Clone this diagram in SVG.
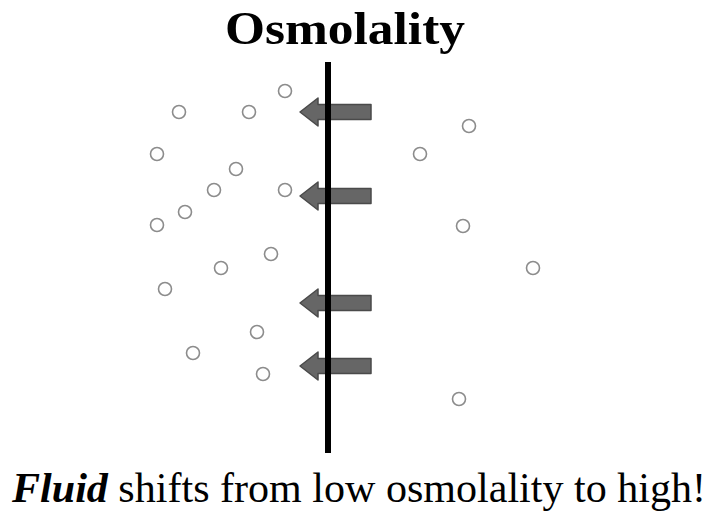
<svg xmlns="http://www.w3.org/2000/svg" width="715" height="519" viewBox="0 0 715 519">
<defs>
<style>
.p{fill:none;stroke:#8c8c8c;stroke-width:1.6}
.ar{fill:#666;stroke:#4a4a4a;stroke-width:1.5;stroke-linejoin:round}
.t{font-family:"Liberation Serif","Times New Roman",serif;fill:#000}
</style>
<path id="arr" class="ar" d="M0,0 L18,-14 L18,-7.5 L71,-7.5 L71,7.5 L18,7.5 L18,14 Z"/>
</defs>
<rect width="715" height="519" fill="#fff"/>
<g id="title"><text class="t" x="345" y="44" font-size="46" font-weight="bold" text-anchor="middle" textLength="240" lengthAdjust="spacingAndGlyphs">Osmolality</text></g>
<g id="particles-left">
<circle class="p" cx="179" cy="112" r="6.5"/>
<circle class="p" cx="249" cy="112" r="6.5"/>
<circle class="p" cx="285" cy="91" r="6.5"/>
<circle class="p" cx="157" cy="154" r="6.5"/>
<circle class="p" cx="236" cy="169" r="6.5"/>
<circle class="p" cx="214" cy="190" r="6.5"/>
<circle class="p" cx="285" cy="190" r="6.5"/>
<circle class="p" cx="185" cy="212" r="6.5"/>
<circle class="p" cx="157" cy="225" r="6.5"/>
<circle class="p" cx="271" cy="254" r="6.5"/>
<circle class="p" cx="221" cy="268" r="6.5"/>
<circle class="p" cx="165" cy="289" r="6.5"/>
<circle class="p" cx="257" cy="332" r="6.5"/>
<circle class="p" cx="193" cy="353" r="6.5"/>
<circle class="p" cx="263" cy="374" r="6.5"/>
</g>
<g id="particles-right">
<circle class="p" cx="469" cy="126" r="6.5"/>
<circle class="p" cx="420" cy="154" r="6.5"/>
<circle class="p" cx="463" cy="226" r="6.5"/>
<circle class="p" cx="533" cy="268" r="6.5"/>
<circle class="p" cx="459" cy="399" r="6.5"/>
</g>
<g id="connectors">
<use href="#arr" x="300" y="112"/>
<use href="#arr" x="300" y="196"/>
<use href="#arr" x="300" y="303"/>
<use href="#arr" x="300" y="366"/>
</g>
<g id="membrane"><rect x="325" y="62" width="6" height="391" fill="#000"/></g>
<g id="caption"><text class="t" x="12" y="502" font-size="42" textLength="694" lengthAdjust="spacingAndGlyphs"><tspan font-weight="bold" font-style="italic">Fluid</tspan> shifts from low osmolality to high!</text></g>
</svg>
